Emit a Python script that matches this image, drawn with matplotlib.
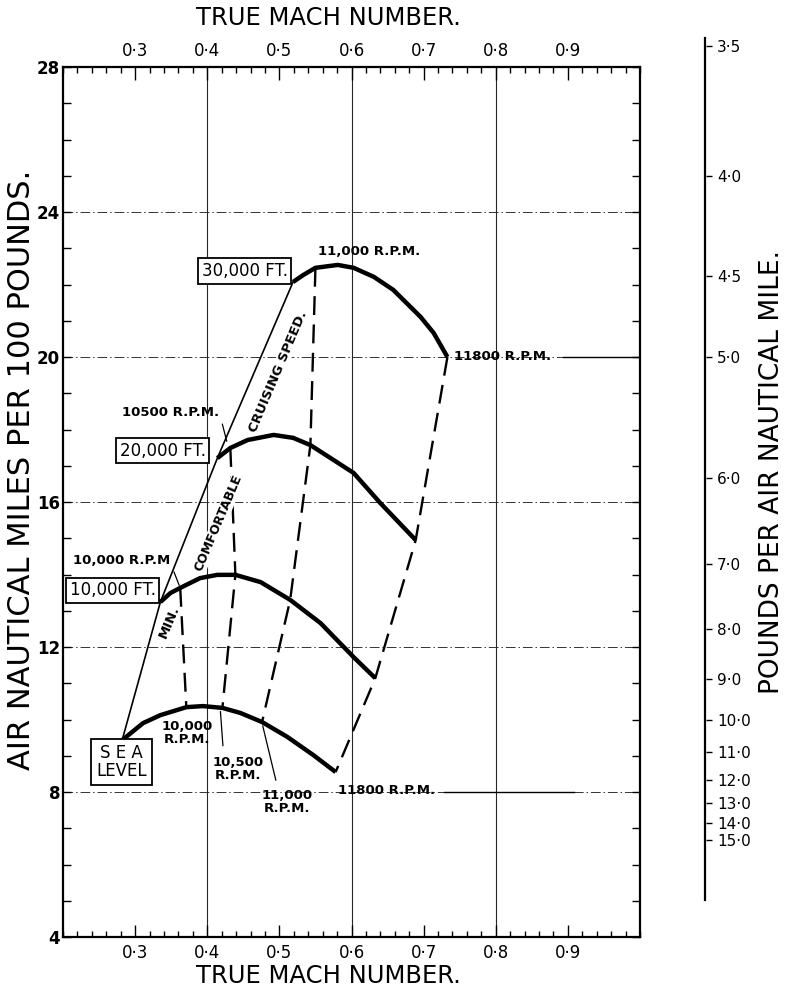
import matplotlib.pyplot as plt
from matplotlib.ticker import MultipleLocator

plt.rcParams['font.family'] = 'DejaVu Sans'

# air nautical miles per 100 lb against true mach number, one curve per height
sl_mach = [0.282, 0.311, 0.335, 0.371, 0.394, 0.421, 0.446, 0.476, 0.511, 0.547, 0.578]
sl_miles = [9.43, 9.90, 10.12, 10.34, 10.37, 10.32, 10.18, 9.93, 9.52, 9.02, 8.55]

ft10_mach = [0.335, 0.349, 0.3625, 0.390, 0.414, 0.439, 0.474, 0.515, 0.557, 0.603, 0.633]
ft10_miles = [13.24, 13.49, 13.63, 13.90, 13.99, 13.99, 13.79, 13.30, 12.66, 11.72, 11.14]

ft20_mach = [0.414, 0.432, 0.456, 0.492, 0.519, 0.543, 0.575, 0.603, 0.640, 0.689]
ft20_miles = [17.21, 17.49, 17.71, 17.85, 17.77, 17.57, 17.16, 16.80, 15.97, 14.95]

ft30_mach = [0.519, 0.533, 0.550, 0.581, 0.603, 0.631, 0.658, 0.696, 0.714, 0.733]
ft30_miles = [22.07, 22.26, 22.46, 22.54, 22.46, 22.21, 21.85, 21.10, 20.66, 20.00]

# constant r.p.m. lines (dashed)
rpm10000_mach = [0.3625, 0.371]
rpm10000_miles = [13.63, 10.34]
rpm10500_mach = [0.432, 0.439, 0.421]
rpm10500_miles = [17.49, 13.99, 10.32]
rpm11000_mach = [0.550, 0.543, 0.515, 0.476]
rpm11000_miles = [22.46, 17.57, 13.30, 9.93]
rpm11800_mach = [0.733, 0.689, 0.633, 0.578]
rpm11800_miles = [20.00, 14.95, 11.14, 8.55]

# min. comfortable cruising speed, through the start of each curve
min_mach = [0.282, 0.335, 0.414, 0.519]
min_miles = [9.43, 13.24, 17.21, 22.07]

mach_ticks = [0.3, 0.4, 0.5, 0.6, 0.7, 0.8, 0.9]
mach_labels = ['0·3', '0·4', '0·5', '0·6', '0·7', '0·8', '0·9']
miles_ticks = [4, 8, 12, 16, 20, 24, 28]
grid_miles = [8, 12, 16, 20, 24]
grid_mach = [0.4, 0.6, 0.8]
lb_per_mile = [3.5, 4.0, 4.5, 5.0, 6.0, 7.0, 8.0, 9.0, 10.0, 11.0, 12.0, 13.0, 14.0, 15.0]

fig = plt.figure(figsize=(7.95, 9.98), dpi=100)
ax = fig.add_axes([63 / 795, 1 - 937 / 998, 577 / 795, 870 / 998])
ax.set_xlim(0.2, 1.0)
ax.set_ylim(4, 28)

for y in grid_miles:
    ax.axhline(y, color='0.2', lw=0.7, ls=(0, (10, 3, 1.5, 3)), zorder=1)
for x in grid_mach:
    ax.axvline(x, color='0.15', lw=0.8, zorder=1)

ax.set_xticks(mach_ticks)
ax.set_xticklabels(mach_labels, fontsize=12)
ax.xaxis.set_minor_locator(MultipleLocator(0.02))
ax.set_yticks(miles_ticks)
ax.set_yticklabels([str(v) for v in miles_ticks], fontsize=12, fontweight='bold')
ax.yaxis.set_minor_locator(MultipleLocator(1))
ax.tick_params(which='both', direction='in', top=True, right=True, labeltop=True, width=1)
ax.tick_params(axis='x', which='major', length=9, pad=5)
ax.tick_params(axis='x', which='minor', length=4)
ax.tick_params(axis='y', which='both', length=6, pad=2)
for s in ax.spines.values():
    s.set_linewidth(1.6)

curve = dict(color='black', lw=3.2, solid_capstyle='butt', zorder=4)
ax.plot(sl_mach, sl_miles, **curve)
ax.plot(ft10_mach, ft10_miles, **curve)
ax.plot(ft20_mach, ft20_miles, **curve)
ax.plot(ft30_mach, ft30_miles, **curve)

dash = dict(color='black', lw=1.7, dashes=(8, 4), zorder=3)
ax.plot(rpm10000_mach, rpm10000_miles, **dash)
ax.plot(rpm10500_mach, rpm10500_miles, **dash)
ax.plot(rpm11000_mach, rpm11000_miles, **dash)
ax.plot(rpm11800_mach, rpm11800_miles, **dash)

ax.plot(min_mach, min_miles, color='black', lw=1.2, zorder=3)

# solid pieces of the 8 and 20 lines carried over to the right-hand scale
ax.plot([0.728, 0.908], [8, 8], color='black', lw=1.0, zorder=2)
ax.plot([0.893, 1.0], [20, 20], color='black', lw=1.0, zorder=2)

box = dict(boxstyle='square,pad=0.22', fc='white', ec='black', lw=1.3)
ax.text(0.452, 22.37, '30,000 FT.', fontsize=12, ha='center', va='center', bbox=box, zorder=6)
ax.text(0.338, 17.42, '20,000 FT.', fontsize=12, ha='center', va='center', bbox=box, zorder=6)
ax.text(0.269, 13.56, '10,000 FT.', fontsize=12, ha='center', va='center', bbox=box, zorder=6)
ax.text(0.281, 8.83, 'S E A\nLEVEL', fontsize=12, ha='center', va='center',
        linespacing=1.05, bbox=dict(boxstyle='square,pad=0.3', fc='white', ec='black', lw=1.3), zorder=6)

lab = dict(fontsize=9.5, fontweight='bold', va='center')
ax.text(0.553, 22.9, '11,000 R.P.M.', ha='left', **lab)
ax.text(0.742, 20.0, '11800 R.P.M.', ha='left', **lab)
ax.text(0.581, 8.03, '11800 R.P.M.', ha='left', **lab)
ax.text(0.372, 9.63, '10,000\nR.P.M.', ha='center', linespacing=1.0, **lab)
ax.text(0.443, 8.63, '10,500\nR.P.M.', ha='center', linespacing=1.0, **lab)
ax.text(0.511, 7.72, '11,000\nR.P.M.', ha='center', linespacing=1.0, **lab)

lead = dict(arrowstyle='-', color='black', lw=0.9)
ax.annotate('10500 R.P.M.', xy=(0.428, 17.6), xytext=(0.282, 18.48), ha='left',
            arrowprops=dict(lead, relpos=(1.0, 0.5)), **lab)
ax.annotate('10,000 R.P.M', xy=(0.3625, 13.63), xytext=(0.214, 14.40), ha='left',
            arrowprops=dict(lead, relpos=(1.0, 0.3)), **lab)
ax.annotate('', xy=(0.418, 10.30), xytext=(0.422, 9.20), arrowprops=lead)
ax.annotate('', xy=(0.476, 9.90), xytext=(0.496, 8.25), arrowprops=lead)

rot = dict(fontsize=9.5, fontweight='bold', rotation=67, ha='center', va='center',
           rotation_mode='anchor', zorder=5,
           bbox=dict(boxstyle='square,pad=0.05', fc='white', ec='none'))
ax.text(0.347, 12.69, 'MIN.', **rot)
ax.text(0.416, 15.42, 'COMFORTABLE', **dict(rot, fontsize=9))
ax.text(0.498, 19.60, 'CRUISING SPEED.', **rot)

# right-hand scale: pounds per air nautical mile = 100 / (miles per 100 lb)
ax2 = fig.add_axes([705 / 795, 1 - 900 / 998, 0.001, 862 / 998])
ax2.set_ylim(28 - (900 - 67) / 36.25, 28 + 29 / 36.25)
ax2.set_xticks([])
for side in ['top', 'bottom', 'right']:
    ax2.spines[side].set_visible(False)
ax2.spines['left'].set_linewidth(1.6)
ax2.yaxis.tick_right()
ax2.set_yticks([100 / p for p in lb_per_mile])
ax2.set_yticklabels([f'{p:.1f}'.replace('.', '·') for p in lb_per_mile], fontsize=11)
ax2.tick_params(axis='y', length=4, width=1, pad=4)
ax2.patch.set_visible(False)

fig.text(328 / 795, 1 - 18 / 998, 'TRUE MACH NUMBER.', fontsize=17.5, ha='center', va='center')
fig.text(328 / 795, 1 - 976 / 998, 'TRUE MACH NUMBER.', fontsize=17.5, ha='center', va='center')
fig.text(22 / 795, 1 - 470 / 998, 'AIR NAUTICAL MILES PER 100 POUNDS.', fontsize=22,
         rotation=90, ha='center', va='center')
fig.text(772 / 795, 1 - 472 / 998, 'POUNDS PER AIR NAUTICAL MILE.', fontsize=19,
         rotation=90, ha='center', va='center')

fig.savefig('out.png', dpi=100)
